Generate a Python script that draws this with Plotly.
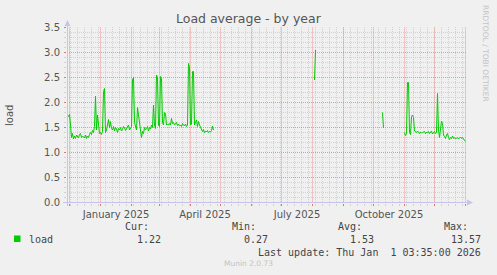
import plotly.graph_objects as go
from datetime import datetime, timedelta

# ---------------- data ----------------
seg1_start = "2024-11-29"
seg1_values = [1.70, 1.73, 1.76, 1.55, 1.30, 1.38, 1.27, 1.33, 1.28, 1.35,
               1.31, 1.29, 1.36, 1.38, 1.30, 1.33, 1.31, 1.29, 1.35, 1.28,
               1.33, 1.30, 1.36, 1.40, 1.36, 1.44, 1.40, 1.52, 2.13, 1.45,
               1.75, 1.50, 1.38, 1.40, 1.36, 1.42, 2.22, 2.28, 1.40, 1.45,
               1.55, 1.66, 1.50, 1.62, 1.48, 1.45, 1.52, 1.43, 1.50, 1.47,
               1.40, 1.48, 1.45, 1.50, 1.43, 1.46, 1.52, 1.50, 1.44, 1.48,
               1.50, 1.55, 1.45, 1.50, 1.52, 2.45, 2.50, 1.60, 1.50, 1.45,
               1.90, 1.75, 1.55, 1.48, 1.30, 1.42, 1.38, 1.50, 1.45, 1.48,
               1.52, 1.43, 1.50, 1.47, 1.55, 1.50, 1.95, 1.55, 1.48, 2.55,
               2.50, 1.55, 1.52, 2.52, 2.48, 1.60, 1.55, 1.80, 1.78, 1.55,
               1.57, 1.55, 1.58, 1.55, 1.68, 1.58, 1.60, 1.55, 1.57, 1.60,
               1.54, 1.57, 1.53, 1.55, 1.52, 1.58, 1.55, 1.53, 1.57, 1.52,
               1.55, 2.78, 2.70, 1.55, 1.57, 2.62, 2.62, 1.55, 1.60, 1.65,
               1.52, 1.62, 1.55, 1.50, 1.45, 1.42, 1.46, 1.40, 1.43, 1.41,
               1.44, 1.40, 1.42, 1.41, 1.44, 1.53, 1.45]
seg2_start = "2025-08-03"
seg2_values = [2.45, 3.05]
seg3_start = "2025-10-10"
seg3_values = [1.80, 1.49]
seg4_start = "2025-11-01"
seg4_values = [1.40, 1.34, 1.38, 2.40, 2.40, 1.40, 1.36, 1.72, 1.75, 1.70,
               1.43, 1.42, 1.40, 1.43, 1.40, 1.38, 1.41, 1.39, 1.40, 1.42,
               1.42, 1.38, 1.41, 1.39, 1.42, 1.38, 1.40, 1.43, 1.37, 1.40,
               1.42, 1.38, 1.40, 2.18, 1.45, 1.30, 1.50, 1.63, 1.58, 1.35,
               1.32, 1.28, 1.35, 1.38, 1.30, 1.26, 1.30, 1.28, 1.33, 1.28,
               1.30, 1.27, 1.29, 1.30, 1.27, 1.29, 1.31, 1.28, 1.30, 1.27,
               1.25, 1.22]

month_starts = ["2024-12-01", "2025-01-01", "2025-02-01", "2025-03-01", "2025-04-01",
                "2025-05-01", "2025-06-01", "2025-07-01", "2025-08-01", "2025-09-01",
                "2025-10-01", "2025-11-01", "2025-12-01", "2026-01-01"]
label_dates = ["2025-01-16 12:00", "2025-04-15 12:00", "2025-07-16 12:00", "2025-10-16 12:00"]
label_text = ["January 2025", "April 2025", "July 2025", "October 2025"]

x_start = "2024-11-28 12:00"
x_end = "2026-01-02 12:00"
y_range = [-0.01, 3.51]

series_name = "load"
stat_cur = "1.22"
stat_min = "0.27"
stat_avg = "1.53"
stat_max = "13.57"
last_update = "Last update: Thu Jan\u00a0\u00a01 03:35:00 2026"
title = "Load average - by year"
ylabel = "load"
version = "Munin 2.0.73"
side_text = "RRDTOOL / TOBI OETIKER"

# ---------------- build series ----------------
xs, ys = [], []
for start, vals in [(seg1_start, seg1_values), (seg2_start, seg2_values),
                    (seg3_start, seg3_values), (seg4_start, seg4_values)]:
    d0 = datetime.strptime(start, "%Y-%m-%d")
    for i, v in enumerate(vals):
        xs.append(d0 + timedelta(days=i))
        ys.append(v)
    xs.append(d0 + timedelta(days=len(vals)))
    ys.append(None)

W, H = 497, 275
L, R, T, B = 67, 467, 27, 203


def px(x):
    return (x - L) / (R - L)


def py(y):
    return (B - y) / (B - T)


BG = "#F0F0F0"
MGRID = "rgba(235,130,130,0.8)"
MGRID_V = "rgba(232,120,120,0.38)"
GRID = "rgba(185,185,185,0.55)"
AXIS = "#C4C4EE"
TXT = "#555555"
GREEN = "#00CC00"
FONT = "DejaVu Sans"
MONO = "DejaVu Sans Mono"

fig = go.Figure()
fig.add_trace(go.Scatter(x=[label_dates[0]], y=[None], xaxis="x3", mode="lines",
                         showlegend=False, hoverinfo="skip"))
fig.add_trace(go.Scatter(x=[label_dates[0]], y=[None], xaxis="x2", mode="lines",
                         showlegend=False, hoverinfo="skip"))
fig.add_trace(go.Scatter(x=xs, y=ys, mode="lines", line=dict(color=GREEN, width=1),
                         connectgaps=False, showlegend=False, hoverinfo="skip"))

fig.update_layout(
    width=W, height=H,
    margin=dict(l=L, r=W - R, t=T, b=H - B, pad=0),
    paper_bgcolor=BG, plot_bgcolor=BG,
    # weekly minor grid
    xaxis=dict(type="date", range=[x_start, x_end], showticklabels=False,
               dtick=7 * 86400000, tick0="2024-12-02",
               showgrid=True, gridcolor=GRID, griddash="1px,1px", gridwidth=1,
               ticks="outside", ticklen=2, tickcolor=GRID, zeroline=False, showline=False),
    # monthly major grid
    xaxis3=dict(type="date", range=[x_start, x_end], overlaying="x", anchor="y",
                showticklabels=False, tickmode="array", tickvals=month_starts,
                showgrid=True, gridcolor=MGRID_V, griddash="solid", gridwidth=1,
                ticks="outside", ticklen=2, tickcolor="rgba(230,100,100,0.9)",
                zeroline=False, showline=False),
    xaxis2=dict(type="date", range=[x_start, x_end], overlaying="x", anchor="y",
                side="bottom", tickmode="array", tickvals=label_dates, ticktext=label_text,
                showgrid=False, ticks="", zeroline=False, showline=False,
                tickfont=dict(family=FONT, size=10, color=TXT), ticklabelstandoff=4),
    yaxis=dict(range=y_range, dtick=0.5, tick0=0, tickformat=".1f",
               showgrid=True, gridcolor=MGRID, griddash="1px,1px", gridwidth=1,
               ticks="outside", ticklen=2, tickcolor="rgba(230,100,100,0.9)",
               zeroline=False, showline=False, ticklabelstandoff=2,
               tickfont=dict(family=FONT, size=10, color=TXT),
               minor=dict(dtick=0.1, tick0=0, showgrid=True, gridcolor=GRID,
                          griddash="1px,1px", gridwidth=1, ticks="outside",
                          ticklen=2, tickcolor=GRID)),
    font=dict(family=FONT, color=TXT),
)

shapes = [
    dict(type="line", xref="paper", yref="paper", x0=px(67.5), x1=px(67.5), y0=py(206), y1=py(25),
         line=dict(color=AXIS, width=1)),
    dict(type="line", xref="paper", yref="paper", x0=px(63), x1=px(469), y0=py(202.5), y1=py(202.5),
         line=dict(color=AXIS, width=1)),
    dict(type="path", xref="paper", yref="paper",
         path=f"M {px(64.5)} {py(26)} L {px(70.5)} {py(26)} L {px(67.5)} {py(20)} Z",
         fillcolor=AXIS, line=dict(color=AXIS, width=0)),
    dict(type="path", xref="paper", yref="paper",
         path=f"M {px(467)} {py(199.5)} L {px(467)} {py(205.5)} L {px(473)} {py(202.5)} Z",
         fillcolor=AXIS, line=dict(color=AXIS, width=0)),
    dict(type="rect", xref="paper", yref="paper", x0=px(14), x1=px(20.5), y0=py(242), y1=py(235.5),
         fillcolor=GREEN, line=dict(width=0)),
]
fig.update_layout(shapes=shapes)


def ann(text, x, y, xanchor="center", size=10, color=TXT, family=FONT, angle=0):
    return dict(text=text, x=px(x), y=py(y), xref="paper", yref="paper", showarrow=False,
                xanchor=xanchor, yanchor="middle", textangle=angle,
                font=dict(family=family, size=size, color=color))


LEG = "#444444"
annotations = [
    ann(title, 249, 18, size=12.5, color=TXT),
    ann(ylabel, 10, 116, size=10, color=TXT, angle=-90),
    ann(side_text, 486, 53, size=7.5, color="#C4C4C4", angle=90),
    ann(series_name, 27, 239, xanchor="left", family=MONO, color=LEG),
    ann("Cur:", 150.5, 227, xanchor="right", family=MONO, color=LEG),
    ann(stat_cur, 163, 239, xanchor="right", family=MONO, color=LEG),
    ann("Min:", 257.5, 227, xanchor="right", family=MONO, color=LEG),
    ann(stat_min, 270, 239, xanchor="right", family=MONO, color=LEG),
    ann("Avg:", 363.5, 227, xanchor="right", family=MONO, color=LEG),
    ann(stat_avg, 376, 239, xanchor="right", family=MONO, color=LEG),
    ann("Max:", 470, 227, xanchor="right", family=MONO, color=LEG),
    ann(stat_max, 482.5, 239, xanchor="right", family=MONO, color=LEG),
    ann(last_update, 482.5, 252, xanchor="right", family=MONO, color=LEG),
    ann(version, 248, 263, size=7.5, color="#C4C4C4"),
]
fig.update_layout(annotations=annotations)

fig.write_html("out.html")
